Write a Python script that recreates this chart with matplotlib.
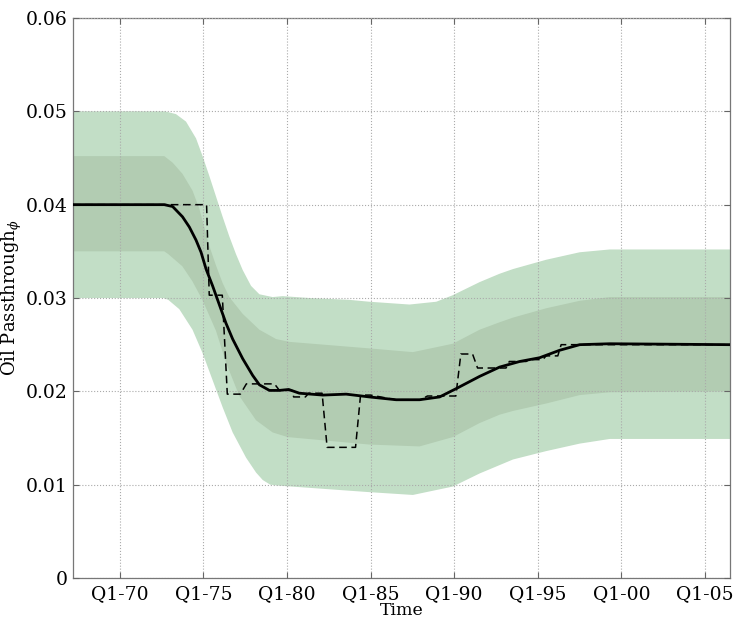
import matplotlib
matplotlib.use('Agg')
from matplotlib import pyplot as plt

plt.rcParams['font.family'] = ['DejaVu Serif']
plt.rcParams['mathtext.fontset'] = 'dejavuserif'

# posterior median of the time-varying oil passthrough
mid_t = [1967.2, 1972.66, 1973.16, 1973.75, 1974.16, 1974.56, 1974.86, 1975.16,
         1975.55, 1975.95, 1976.35, 1976.75, 1977.35, 1977.95, 1978.35, 1978.95,
         1979.54, 1980.1, 1980.74, 1982.14, 1983.54, 1984.93, 1986.53, 1987.93,
         1989.13, 1990.13, 1991.52, 1992.72, 1993.92, 1995.11, 1996.31, 1997.51,
         1999.31, 2006.5]
mid_v = [0.0400, 0.0400, 0.0398, 0.0387, 0.0376, 0.0362, 0.0349, 0.0331,
         0.0313, 0.0293, 0.0273, 0.0256, 0.0235, 0.0217, 0.0207, 0.0201,
         0.0201, 0.0202, 0.0198, 0.0196, 0.0197, 0.0194, 0.0191, 0.0191,
         0.0194, 0.0203, 0.0216, 0.0226, 0.0232, 0.0236, 0.0244, 0.0250,
         0.0251, 0.0250]

# point estimate (piecewise)
est_t = [1967.2, 1975.19, 1975.35, 1976.13, 1976.43, 1977.21, 1977.57, 1979.25,
         1979.55, 1980.3, 1980.4, 1981.1, 1981.3, 1982.1, 1982.4, 1984.1,
         1984.4, 1985.0, 1986.5, 1988.0, 1988.4, 1990.1, 1990.4, 1991.1,
         1991.4, 1993.1, 1993.3, 1994.3, 1994.5, 1995.3, 1995.5, 1996.2,
         1996.4, 2006.5]
est_v = [0.0400, 0.0400, 0.0303, 0.0303, 0.0197, 0.0197, 0.0208, 0.0208,
         0.0201, 0.0201, 0.0194, 0.0194, 0.0198, 0.0198, 0.0140, 0.0140,
         0.0196, 0.0196, 0.0191, 0.0191, 0.0195, 0.0195, 0.0240, 0.0240,
         0.0225, 0.0225, 0.0232, 0.0232, 0.0234, 0.0234, 0.0238, 0.0238,
         0.0250, 0.0250]

# outer band (wide interval)
outer_t = [1967.2, 1972.7, 1973.36, 1973.96, 1974.56, 1974.95, 1975.35, 1975.75,
           1976.15, 1976.55, 1976.95, 1977.35, 1977.85, 1978.35, 1979.14, 1979.74,
           1981.34, 1983.74, 1984.93, 1987.33, 1988.93, 1989.92, 1991.52, 1992.72,
           1993.52, 1995.51, 1997.51, 1999.31, 2006.5]
outer_hi = [0.0500, 0.0500, 0.0497, 0.0489, 0.0471, 0.0452, 0.0431, 0.0409,
            0.0387, 0.0366, 0.0347, 0.0330, 0.0313, 0.0304, 0.0301, 0.0302,
            0.0300, 0.0298, 0.0296, 0.0293, 0.0296, 0.0303, 0.0317, 0.0326,
            0.0331, 0.0341, 0.0349, 0.0352, 0.0352]
outer_lo_t = [1967.2, 1972.6, 1972.9, 1973.56, 1974.35, 1974.95, 1975.55, 1976.15,
              1976.75, 1977.55, 1978.15, 1978.55, 1979.0, 1979.5, 1984.93, 1987.53,
              1989.92, 1991.52, 1992.72, 1993.52, 1995.51, 1997.51, 1999.31, 2006.5]
outer_lo = [0.0300, 0.0300, 0.0298, 0.0288, 0.0266, 0.0241, 0.0212, 0.0183,
            0.0156, 0.0129, 0.0113, 0.0105, 0.0100, 0.0099, 0.0092, 0.0089,
            0.0098, 0.0112, 0.0121, 0.0127, 0.0136, 0.0144, 0.0149, 0.0149]

# inner band (narrow interval)
inner_hi_t = [1967.2, 1972.66, 1973.16, 1973.75, 1974.35, 1974.75, 1975.05, 1975.35,
              1975.75, 1976.15, 1976.55, 1977.35, 1978.35, 1979.35, 1980.14, 1984.93,
              1987.53, 1989.92, 1991.52, 1992.72, 1993.52, 1995.51, 1997.51, 1999.31,
              2006.5]
inner_hi = [0.0452, 0.0452, 0.0445, 0.0433, 0.0415, 0.0396, 0.0376, 0.0356,
            0.0335, 0.0316, 0.0301, 0.0283, 0.0266, 0.0256, 0.0253, 0.0246,
            0.0242, 0.0251, 0.0266, 0.0274, 0.0279, 0.0289, 0.0297, 0.0301,
            0.0301]
inner_lo_t = [1967.2, 1972.66, 1972.9, 1973.74, 1974.34, 1974.94, 1975.75, 1976.35,
              1977.15, 1978.15, 1979.14, 1980.04, 1984.93, 1987.93, 1989.92, 1991.52,
              1992.72, 1993.52, 1995.51, 1997.51, 1999.31, 2006.5]
inner_lo = [0.0350, 0.0350, 0.0347, 0.0334, 0.0318, 0.0298, 0.0265, 0.0231,
            0.0195, 0.0169, 0.0156, 0.0151, 0.0143, 0.0141, 0.0151, 0.0166,
            0.0175, 0.0179, 0.0187, 0.0196, 0.0199, 0.0200]

xtick_pos = [1970, 1975, 1980, 1985, 1990, 1995, 2000, 2005]
xtick_lab = ['Q1-70', 'Q1-75', 'Q1-80', 'Q1-85', 'Q1-90', 'Q1-95', 'Q1-00', 'Q1-05']
ytick_pos = [0, 0.01, 0.02, 0.03, 0.04, 0.05, 0.06]
ytick_lab = ['0', '0.01', '0.02', '0.03', '0.04', '0.05', '0.06']

fig = plt.figure(figsize=(7.33, 6.2), dpi=100)
ax = fig.add_axes([0.0996, 0.0677, 0.8963, 0.9033])


def poly(t_hi, v_hi, t_lo, v_lo):
    # closed outline: upper edge left->right, lower edge right->left
    xs = list(t_hi) + list(t_lo)[::-1]
    ys = list(v_hi) + list(v_lo)[::-1]
    return xs, ys


xs, ys = poly(outer_t, outer_hi, outer_lo_t, outer_lo)
ax.fill(xs, ys, color='#c2dec6', lw=0, zorder=1)
xs, ys = poly(inner_hi_t, inner_hi, inner_lo_t, inner_lo)
ax.fill(xs, ys, color='#b2ccb2', lw=0, zorder=1.1)

ax.plot(est_t, est_v, color='black', lw=1.1, ls=(0, (5, 3)), zorder=3)
ax.plot(mid_t, mid_v, color='black', lw=2.0, zorder=3.1,
        solid_joinstyle='round')

ax.set_xlim(1967.2, 2006.5)
ax.set_ylim(0, 0.06)
ax.set_xticks(xtick_pos)
ax.set_xticklabels(xtick_lab)
ax.set_yticks(ytick_pos)
ax.set_yticklabels(ytick_lab)

ax.grid(True, ls=':', color='#aaaaaa', lw=0.8)
ax.set_axisbelow(False)
ax.tick_params(direction='in', length=4, top=True, right=True,
               color='#666666', labelsize=13.5)
ax.tick_params(axis='x', pad=5)
ax.tick_params(axis='y', pad=4)
for sp in ax.spines.values():
    sp.set_color('#777777')
    sp.set_linewidth(0.9)

ax.set_xlabel('Time', fontsize=12.5, va='bottom')
ax.xaxis.set_label_coords(0.5, -0.0725)
ax.set_ylabel(r'Oil Passthrough$_{\phi}$', fontsize=13)
ax.yaxis.set_label_coords(-0.074, 0.5)

fig.savefig('out.png', dpi=100)
